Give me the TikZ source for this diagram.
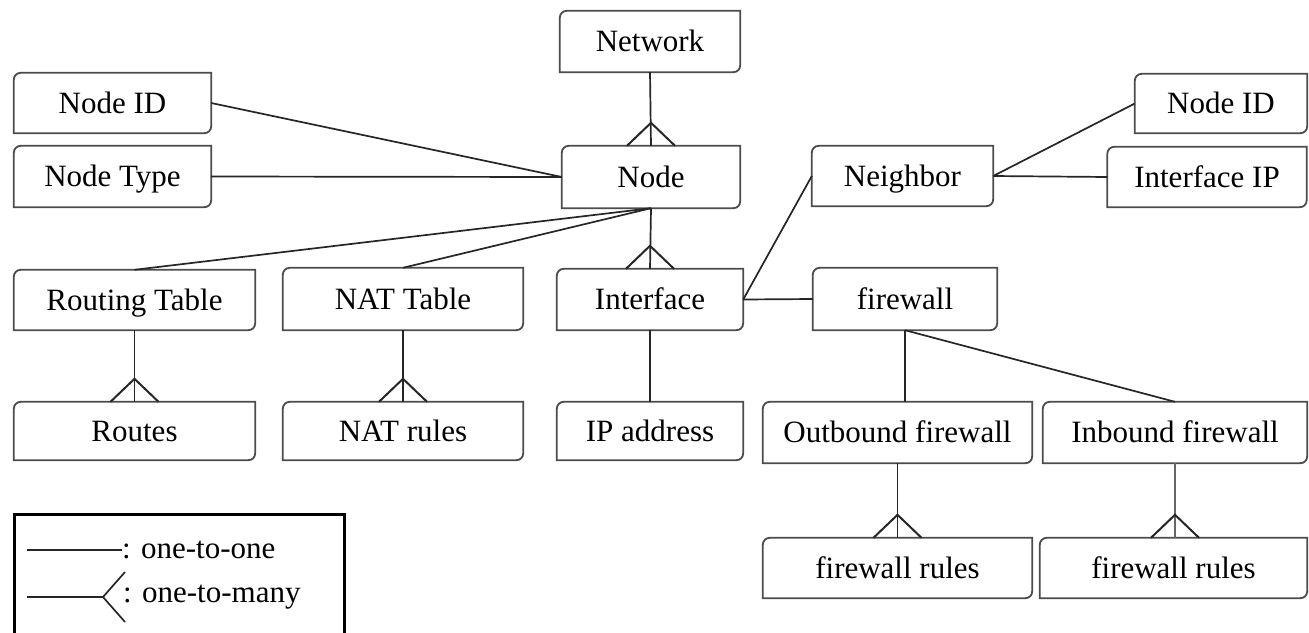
\documentclass[tikz,border=0pt]{standalone}
\usepackage{fontspec}
\setmainfont{Liberation Serif}
\usetikzlibrary{calc}

% entity box: sharp top-right / bottom-left, rounded top-left / bottom-right
\newcommand\entityframe[1]{%
  \draw[frame] (#1.south west)
    -- ($(#1.north west)+(0,7)$)
    .. controls ($(#1.north west)+(0,3)$) and ($(#1.north west)+(3,0)$) .. ($(#1.north west)+(7,0)$)
    -- (#1.north east)
    -- ($(#1.south east)+(0,-7)$)
    .. controls ($(#1.south east)+(0,-3)$) and ($(#1.south east)+(-3,0)$) .. ($(#1.south east)+(-7,0)$)
    -- cycle;}
% crow's foot (many side) sitting on an anchor
\newcommand\crowfoot[1]{%
  \draw[link, line width=2pt] ($(#1)+(-24,0)$) -- ($(#1)+(0,-23)$) -- ($(#1)+(24,0)$);}

\begin{document}
\begin{tikzpicture}[x=1pt,y=-1pt,
  ebox/.style={inner sep=0pt, text height=24pt, text depth=4pt, font=\fontsize{31}{34}\selectfont},
  legendtext/.style={inner sep=0pt, font=\fontsize{31}{34}\selectfont},
  link/.style={line width=1.7pt, draw=black!85},
  frame/.style={line width=1.8pt, draw=black!70}]
\useasboundingbox (0,0) rectangle (1309,632);
\fill[white] (0,0) rectangle (1309,632);

% entities
\node[ebox, minimum width=180pt, minimum height=61pt] (network) at (650,41.5) {Network};
\node[ebox, minimum width=178pt, minimum height=62pt] (node) at (651,177) {Node};
\node[ebox, minimum width=197pt, minimum height=60pt] (nid) at (112.5,103) {Node ID};
\node[ebox, minimum width=197pt, minimum height=61pt] (ntype) at (112.5,176.5) {Node Type};
\node[ebox, minimum width=241pt, minimum height=60pt] (rt) at (134.5,300) {Routing Table};
\node[ebox, minimum width=240pt, minimum height=62pt] (natt) at (403,299) {NAT Table};
\node[ebox, minimum width=186pt, minimum height=61pt] (iface) at (650,299.5) {Interface};
\node[ebox, minimum width=184pt, minimum height=62pt] (fw) at (905,299) {firewall};
\node[ebox, minimum width=181pt, minimum height=60pt] (nb) at (902.5,176) {Neighbor};
\node[ebox, minimum width=172pt, minimum height=59pt] (nid2) at (1221,103.5) {Node ID};
\node[ebox, minimum width=199pt, minimum height=60pt] (iip) at (1207,177) {Interface IP};
\node[ebox, minimum width=241pt, minimum height=58pt] (routes) at (134.5,431) {Routes};
\node[ebox, minimum width=240pt, minimum height=58pt] (natr) at (403,431) {NAT rules};
\node[ebox, minimum width=186pt, minimum height=58pt] (ipa) at (650,431) {IP address};
\node[ebox, minimum width=269pt, minimum height=61pt] (outb) at (897.5,432.5) {Outbound firewall};
\node[ebox, minimum width=264pt, minimum height=61pt] (inb) at (1175,432.5) {Inbound firewall};
\node[ebox, minimum width=269pt, minimum height=60pt] (fwr1) at (897.5,568) {firewall rules};
\node[ebox, minimum width=267pt, minimum height=60pt] (fwr2) at (1173.5,568) {firewall rules};

\foreach \n in {network,node,nid,ntype,rt,natt,iface,fw,nb,nid2,iip,routes,natr,ipa,outb,inb,fwr1,fwr2}
  {\entityframe{\n}}

% relationships
\draw[link] (network.south) -- (node.north);
\crowfoot{node.north}
\draw[link] (nid.east) -- (node.west);
\draw[link] (ntype.east) -- (node.west);
\draw[link] (node.south) -- (rt.north);
\draw[link] (node.south) -- (natt.north);
\draw[link] (node.south) -- (iface.north);
\crowfoot{iface.north}
\draw[link] (rt.south) -- (routes.north);
\crowfoot{routes.north}
\draw[link] (natt.south) -- (natr.north);
\crowfoot{natr.north}
\draw[link] (iface.south) -- (ipa.north);
\draw[link] (iface.east) -- (fw.west);
\draw[link] (iface.east) -- (nb.west);
\draw[link] (nb.east) -- (nid2.west);
\draw[link] (nb.east) -- (iip.west);
\draw[link] (fw.south) -- (fw.south |- outb.north);
\draw[link] (fw.south) -- (inb.north);
\draw[link] (outb.south) -- (fwr1.north);
\crowfoot{fwr1.north}
\coordinate (inbfoot) at (inb.south |- fwr2.north);
\draw[link, draw=black!60] (inb.south) -- (inbfoot);
\crowfoot{inbfoot}

% legend
\node[draw, line width=3pt, minimum width=330pt, minimum height=140pt, anchor=north west] (legend) at (13,513) {};
\coordinate (oa) at (27,550);
\coordinate (ob) at (122,550);
\draw[link] (oa) -- (ob);
\node[legendtext, anchor=west] (otext) at (ob) {: one-to-one};
\coordinate (ma) at (27,597);
\coordinate (mb) at (103,597);
\coordinate (mu) at (125,572);
\coordinate (md) at (125,622);
\draw[link] (ma) -- (mb);
\draw[link] (mu) -- (mb) -- (md);
\node[legendtext, anchor=west] (mtext) at (123,597) {: one-to-many};
\end{tikzpicture}
\end{document}
